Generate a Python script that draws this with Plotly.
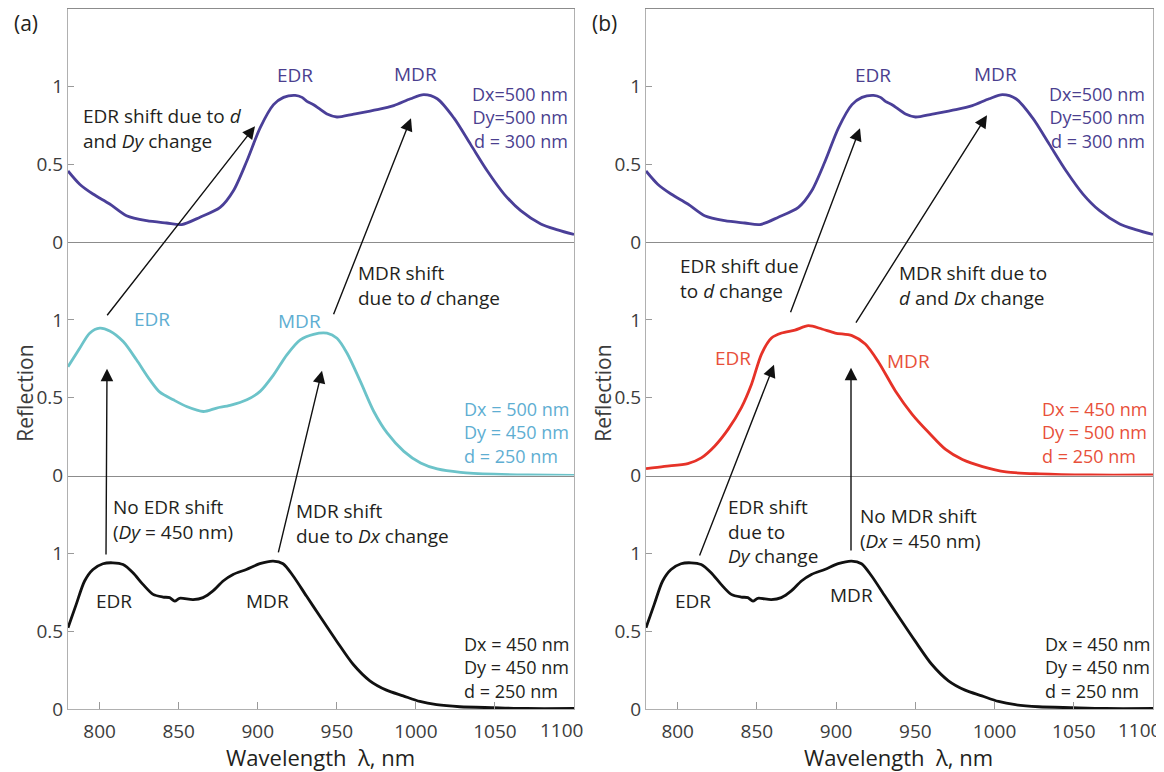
import plotly.graph_objects as go

# ---------------- data ----------------
wl_top = [780, 787.4, 795.8, 806.4, 817, 829.7, 842.3, 851.9, 863.5, 876.2, 884.6, 893.1,
          901.5, 910, 916.3, 923.7, 928, 931.1, 935.3, 943.8, 950.1, 960.7, 975.5, 986,
          996.6, 1005, 1013.5, 1024, 1034.6, 1045.2, 1055.8, 1066.3, 1079, 1089.6, 1100]
refl_top = [0.457, 0.372, 0.309, 0.245, 0.170, 0.138, 0.123, 0.113, 0.16, 0.223, 0.33, 0.521,
            0.734, 0.883, 0.93, 0.943, 0.93, 0.904, 0.883, 0.823, 0.804, 0.823, 0.851, 0.877,
            0.921, 0.947, 0.921, 0.798, 0.628, 0.457, 0.309, 0.202, 0.117, 0.079, 0.049]

wl_mid_a = [780, 787.4, 793.7, 800.1, 806.4, 814.9, 823.3, 831.8, 838.1, 846.6, 855, 865.6,
            874, 882.5, 893.1, 901.5, 910, 918.4, 926.9, 935.3, 943.8, 950.1, 956.5, 964.9,
            973.4, 981.8, 992.4, 1003, 1013.5, 1028.3, 1049.5, 1070.6, 1100]
refl_mid_a = [0.70, 0.818, 0.915, 0.947, 0.929, 0.861, 0.744, 0.615, 0.536, 0.487, 0.444, 0.412,
              0.434, 0.451, 0.487, 0.541, 0.647, 0.776, 0.872, 0.908, 0.915, 0.882, 0.786, 0.605,
              0.412, 0.274, 0.156, 0.081, 0.043, 0.021, 0.009, 0.004, 0.002]

wl_bot = [780, 785.2, 790.5, 795.8, 802.1, 808.4, 814.8, 821.1, 827.4, 833.8, 840.1, 844.3,
          847.5, 850.6, 859.1, 865.4, 871.7, 878.1, 884.4, 892.8, 901.3, 909.7, 916, 922.4,
          930.8, 939.2, 949.8, 960.3, 970.9, 981.4, 992, 1002.5, 1013.1, 1027.8, 1049, 1070, 1100]
refl_bot = [0.523, 0.673, 0.823, 0.897, 0.934, 0.94, 0.929, 0.876, 0.801, 0.737, 0.72, 0.716,
            0.694, 0.712, 0.703, 0.716, 0.759, 0.823, 0.865, 0.897, 0.934, 0.951, 0.934, 0.855,
            0.726, 0.598, 0.438, 0.288, 0.182, 0.122, 0.085, 0.049, 0.028, 0.015, 0.009, 0.004, 0.004]

wl_mid_b = [780, 791.6, 806.4, 814.9, 823.3, 831.8, 840.2, 846.6, 852.9, 859.2, 865.6, 874,
            882.5, 891, 899.4, 910, 918.4, 926.9, 937.4, 948, 958.6, 969.1, 979.7, 992.4,
            1007.2, 1028.3, 1060, 1100]
refl_mid_b = [0.045, 0.06, 0.077, 0.114, 0.189, 0.297, 0.437, 0.587, 0.781, 0.884, 0.916, 0.935,
              0.963, 0.942, 0.916, 0.899, 0.845, 0.727, 0.544, 0.394, 0.275, 0.168, 0.103, 0.058,
              0.024, 0.011, 0.004, 0.004]

x_ticks = [800, 850, 900, 950, 1000, 1050, 1100]
x_tick_text = ["800", "850", "900", "950", "1000", "1050", ""]   # last label placed separately
y_ticks = [0, 0.5, 1]
y_tick_text = ["0", "0.5", "1"]

C_PURPLE = "#4a3f98"
C_CYAN = "#6cc3c9"
C_RED = "#e63228"
C_BLACK = "#111111"
T_PURPLE = "#4b3f8f"
T_CYAN = "#5eaed2"
T_RED = "#e8503a"
T_BLACK = "#231f20"

# screenshot -> page mapping (body margin 8 px, vertical factor of the capture)
SY = 0.982
OFF = 8
W, H = 1170, 780
FONT = "Open Sans"
FS = 19
FS_PAR = 18

def P(px):
    return (px - OFF) / W

def Q(py):
    return 1 - (py / SY - OFF) / H

# ---------------- layout geometry ----------------
xdom_a = [P(68), P(574)]
xdom_b = [P(646), P(1153)]
y_bot0, y_top1 = Q(708), Q(8.5)
hh = (y_top1 - y_bot0) / 3
ydoms = [[y_bot0 + 2 * hh, y_top1], [y_bot0 + hh, y_bot0 + 2 * hh], [y_bot0, y_bot0 + hh]]

fig = go.Figure()

panels = [
    (1, xdom_a, ydoms[0], wl_top, refl_top, C_PURPLE),
    (2, xdom_a, ydoms[1], wl_mid_a, refl_mid_a, C_CYAN),
    (3, xdom_a, ydoms[2], wl_bot, refl_bot, C_BLACK),
    (4, xdom_b, ydoms[0], wl_top, refl_top, C_PURPLE),
    (5, xdom_b, ydoms[1], wl_mid_b, refl_mid_b, C_RED),
    (6, xdom_b, ydoms[2], wl_bot, refl_bot, C_BLACK),
]

layout_axes = {}
for idx, xd, yd, xs, ys, col in panels:
    sfx = "" if idx == 1 else str(idx)
    fig.add_trace(go.Scatter(x=xs, y=ys, mode="lines",
                             line=dict(color=col, width=2.8, shape="spline", smoothing=0.8),
                             xaxis="x" + sfx, yaxis="y" + sfx, showlegend=False,
                             hoverinfo="skip"))
    is_bottom = idx in (3, 6)
    is_top = idx in (1, 4)
    layout_axes["xaxis" + sfx] = dict(
        domain=xd, anchor="y" + sfx, range=[780, 1100],
        tickvals=x_ticks, ticktext=x_tick_text, showticklabels=is_bottom,
        ticks="inside" if is_bottom else "", ticklen=7, tickcolor="#9a9a9a",
        ticklabelstandoff=5,
        showgrid=False, zeroline=False, showline=True,
        linecolor="#8c8c8c" if not is_bottom else "#b0b0b0", linewidth=1,
        mirror=True if is_top else False,
        tickfont=dict(family=FONT, size=19, color="#3c3c3c"),
    )
    layout_axes["yaxis" + sfx] = dict(
        domain=yd, anchor="x" + sfx, range=[0, 1.5],
        tickvals=y_ticks, ticktext=y_tick_text,
        ticks="inside", ticklen=6, tickcolor="#9a9a9a",
        showgrid=False, zeroline=False, showline=True, linecolor="#b0b0b0",
        linewidth=1, mirror=True,
        tickfont=dict(family=FONT, size=19, color="#3c3c3c"),
    )

fig.update_layout(**layout_axes)

annotations = []

def txt(lines, px, py, color=T_BLACK, anchor="left", size=FS, align=None):
    if isinstance(lines, str):
        lines = [lines]
    annotations.append(dict(text="<br>".join(lines), x=P(px), y=Q(py), xref="paper", yref="paper",
                            xanchor=anchor, yanchor="middle", showarrow=False,
                            align=align or anchor,
                            font=dict(family=FONT, size=size, color=color)))

def arrow(tail, tip):
    annotations.append(dict(text="", x=P(tip[0]), y=Q(tip[1]), xref="paper", yref="paper",
                            ax=(tail[0] - tip[0]), ay=(tail[1] - tip[1]) / SY,
                            axref="pixel", ayref="pixel",
                            showarrow=True, arrowhead=2, arrowsize=1.8, arrowwidth=1.4,
                            arrowcolor="#111111", standoff=0, startstandoff=0))

# panel labels
txt("(a)", 12, 23, anchor="left", size=21)
txt("(b)", 590, 23, anchor="left", size=21)

# last x tick labels (shifted inwards as in the reference)
txt("1100", 561, 729, "#3c3c3c", "center", 19)
txt("1100", 1139, 729, "#3c3c3c", "center", 19)

# axis titles
for cx in (320, 898):
    txt("Wavelength  λ, nm", cx, 756, anchor="center", size=22)
for cx in (25, 603):
    annotations.append(dict(text="Reflection", x=P(cx), y=Q(393), xref="paper", yref="paper",
                            xanchor="center", yanchor="middle", textangle=-90, showarrow=False,
                            font=dict(family=FONT, size=21, color="#3c3c3c")))

# ---- panel (a) texts ----
txt("EDR", 295, 75, T_PURPLE, "center")
txt("MDR", 415, 74, T_PURPLE, "center")
txt(["Dx=500 nm", "Dy=500 nm", "d = 300 nm"], 570, 117, T_PURPLE, "right", FS_PAR)
txt(["EDR shift due to <i>d</i>", "and <i>Dy</i> change"], 81, 128.5)
txt(["MDR shift", "due to <i>d</i> change"], 356, 285)
txt("EDR", 152, 318, T_CYAN, "center")
txt("MDR", 299, 320, T_CYAN, "center")
txt(["Dx = 500 nm", "Dy = 450 nm", "d = 250 nm"], 462, 431.5, T_CYAN, "left", FS_PAR)
txt(["No EDR shift", "(<i>Dy</i> = 450 nm)"], 111, 519)
txt(["MDR shift", "due to <i>Dx</i> change"], 294, 522.5)
txt("EDR", 114, 600, T_BLACK, "center")
txt("MDR", 267, 600, T_BLACK, "center")
txt(["Dx = 450 nm", "Dy = 450 nm", "d = 250 nm"], 462, 666.5, T_BLACK, "left", FS_PAR)

arrow((106, 313), (255, 126))
arrow((333, 312), (411, 118))
arrow((106, 552), (107, 368))
arrow((278, 550), (322, 370))

# ---- panel (b) texts ----
txt("EDR", 873, 75, T_PURPLE, "center")
txt("MDR", 995, 74, T_PURPLE, "center")
txt(["Dx=500 nm", "Dy=500 nm", "d = 300 nm"], 1147, 117, T_PURPLE, "right", FS_PAR)
txt(["EDR shift due", "to <i>d</i> change"], 678, 277.5)
txt(["MDR shift due to", "<i>d</i> and <i>Dx</i> change"], 897, 285)
txt("EDR", 733, 357, T_RED, "center")
txt("MDR", 908, 360, T_RED, "center")
txt(["Dx = 450 nm", "Dy = 500 nm", "d = 250 nm"], 1040, 431.5, T_RED, "left", FS_PAR)
txt(["EDR shift", "due to", "<i>Dy</i> change"], 726, 530.5)
txt(["No MDR shift", "(<i>Dx</i> = 450 nm)"], 858, 528)
txt("EDR", 693, 600, T_BLACK, "center")
txt("MDR", 851, 594, T_BLACK, "center")
txt(["Dx = 450 nm", "Dy = 450 nm", "d = 250 nm"], 1043, 666.5, T_BLACK, "left", FS_PAR)

arrow((790, 310), (860, 128))
arrow((855, 320), (987, 115))
arrow((699, 553), (774, 364))
arrow((851, 548), (851, 367))

fig.update_layout(
    width=W, height=H,
    margin=dict(l=0, r=0, t=0, b=0),
    paper_bgcolor="white", plot_bgcolor="white",
    annotations=annotations,
    font=dict(family=FONT),
)

fig.write_html("out.html")
